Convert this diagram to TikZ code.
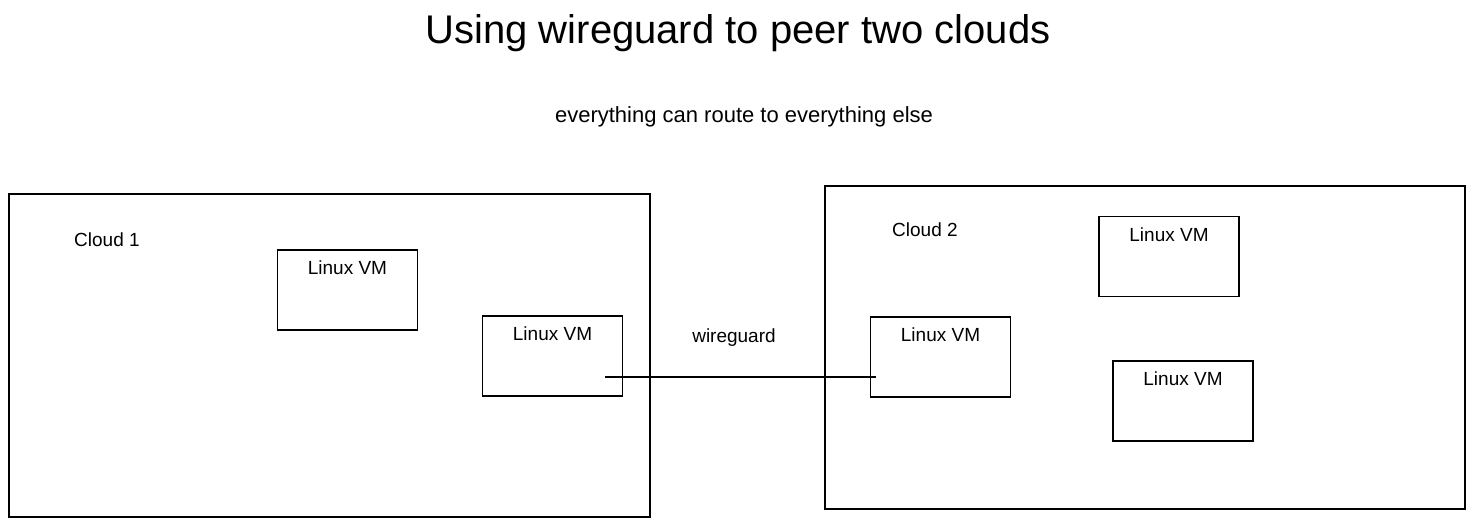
\documentclass[tikz,border=0pt]{standalone}
\usepackage{fontspec}
\setmainfont{Liberation Sans}
\usetikzlibrary{positioning}
\tikzset{
    cloudbox/.style={draw,line width=1.2pt,inner sep=0pt},
    vmbox/.style={draw,line width=1.2pt,inner sep=0pt,minimum width=140pt,minimum height=80pt,
        label={[anchor=north,yshift=-8pt,font=\fontsize{19}{23}\selectfont]north:Linux VM}},
    txt/.style={font=\fontsize{19}{23}\selectfont,inner sep=0pt},
}
\begin{document}
\begin{tikzpicture}[x=1pt,y=-1pt]
        \useasboundingbox (0,0) rectangle (1475,527);
        %% Title
        \node[inner sep=0pt,font=\fontsize{40}{46}\selectfont] (title) at (738,33) {Using wireguard to peer two clouds};
        \node[txt,font=\fontsize{22}{26}\selectfont] (subtitle) at (744,117) {everything can route to everything else};
        %% Cloud 1
        \node[cloudbox,minimum width=641pt,minimum height=323pt] (cloudA) at (329.5,355.5) {};
        \node[txt,anchor=west] (cloudAname) at (74,240) {Cloud 1};
            \node[vmbox] (vmA) at (347.5,290) {};
            \node[vmbox] (vmB) at (552.5,356) {};
        %% Cloud 2
        \node[cloudbox,minimum width=640pt,minimum height=323pt] (cloudB) at (1145,347.5) {};
        \node[txt,anchor=west] (cloudBname) at (892,230) {Cloud 2};
            \node[vmbox] (vmC) at (940.5,357) {};
            \node[vmbox] (vmD) at (1169,256.5) {};
            \node[vmbox] (vmE) at (1183,401) {};
        %% Tunnel
        \coordinate (tunA) at ([xshift=-18pt,yshift=-21pt]vmB.east);
        \coordinate (tunB) at ([xshift=6pt,yshift=-20pt]vmC.west);
            \draw[line width=1.2pt] (tunA) -- (tunB);
        \node[txt] (tunname) at (734,338) {wireguard};
    \end{tikzpicture}
\end{document}
